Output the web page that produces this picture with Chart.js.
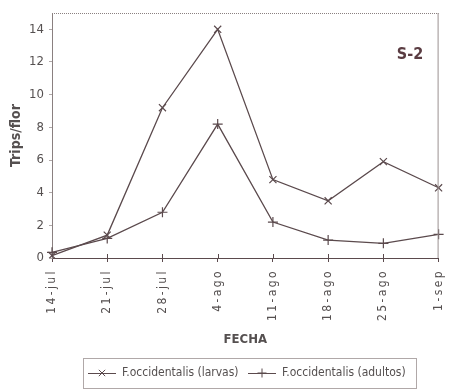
<!DOCTYPE html>
<html>
<head>
<meta charset="utf-8">
<script src="https://cdn.jsdelivr.net/npm/chart.js@4/dist/chart.umd.min.js"></script>
<style>
html,body{margin:0;padding:0;background:#fff;}
#wrap{width:460px;height:390px;}
</style>
</head>
<body>
<div id="wrap"><canvas id="c" width="460" height="390"></canvas></div>
<script>
const categories = ['14-jul','21-jul','28-jul','4-ago','11-ago','18-ago','25-ago','1-sep'];
const larvas = [0.15, 1.4, 9.2, 14.0, 4.8, 3.5, 5.9, 4.3];
const adultos = [0.35, 1.2, 2.8, 8.2, 2.2, 1.1, 0.9, 1.45];
const seriesNames = ['F.occidentalis (larvas)', 'F.occidentalis (adultos)'];
const yTicks = [0, 2, 4, 6, 8, 10, 12, 14];
const panelLabel = 'S-2';
const xTitle = 'FECHA';
const yTitle = 'Trips/flor';

const FONT = "'Liberation Sans Narrow', 'Arial Narrow', 'DejaVu Sans Condensed', sans-serif";
const LINE = '#5b4a4d';
const TEXT = '#555050';

const extras = {
  id: 'extras',
  afterDatasetsDraw(chart) {
    chart.ctx.letterSpacing = '2.4px';
  },
  afterDraw(chart) {
    const ctx = chart.ctx;
    ctx.letterSpacing = '0px';
    ctx.save();
    const a = chart.chartArea;
    // panel label
    ctx.font = "bold 16px " + FONT;
    ctx.fillStyle = '#5a3c42';
    ctx.textAlign = 'center';
    ctx.textBaseline = 'middle';
    ctx.fillText(panelLabel, 410, 55);
    // x title
    ctx.font = "bold 13px " + FONT;
    ctx.fillStyle = TEXT;
    ctx.fillText(xTitle, (a.left + a.right) / 2, 340);
    // top/right border dotted
    ctx.strokeStyle = '#8a8080';
    ctx.lineWidth = 1;
    ctx.setLineDash([1, 1]);
    ctx.beginPath();
    ctx.moveTo(a.left, a.top + 0.5);
    ctx.lineTo(a.right, a.top + 0.5);
    ctx.stroke();
    ctx.setLineDash([]);
    ctx.strokeStyle = '#9a9090';
    ctx.beginPath();
    ctx.moveTo(a.right - 0.5, a.top);
    ctx.lineTo(a.right - 0.5, a.bottom);
    ctx.stroke();
    // x tick marks above axis
    const xs = chart.scales.x;
    ctx.strokeStyle = LINE;
    ctx.beginPath();
    for (let i = 1; i < categories.length - 1; i++) {
      const px = Math.round(xs.getPixelForValue(i)) + 0.5;
      ctx.moveTo(px, a.bottom - 4);
      ctx.lineTo(px, a.bottom);
    }
    ctx.stroke();
    // legend box
    const lx = 83, ly = 358, lw = 333, lh = 30;
    ctx.strokeStyle = '#b0a8a8';
    ctx.strokeRect(lx + 0.5, ly + 0.5, lw, lh);
    ctx.font = "12px " + FONT;
    ctx.fillStyle = TEXT;
    ctx.textAlign = 'left';
    ctx.textBaseline = 'middle';
    const cy = ly + 15;
    const items = [{x: 88, style: 'crossRot'}, {x: 248, style: 'cross'}];
    items.forEach((it, k) => {
      ctx.strokeStyle = LINE;
      ctx.lineWidth = 1;
      ctx.beginPath();
      ctx.moveTo(it.x, cy + 0.5);
      ctx.lineTo(it.x + 28, cy + 0.5);
      ctx.stroke();
      Chart.helpers.drawPoint(ctx, {pointStyle: it.style, radius: 4.5, borderWidth: 1}, it.x + 14, cy);
      ctx.fillText(seriesNames[k], it.x + 34, cy);
    });
    ctx.restore();
  }
};

new Chart(document.getElementById('c'), {
  type: 'line',
  data: {
    labels: categories,
    datasets: [
      {label: seriesNames[0], data: larvas, borderColor: LINE, backgroundColor: LINE, borderWidth: 1.3,
       pointStyle: 'crossRot', pointRadius: 5, pointBorderWidth: 1.2, pointBorderColor: LINE, tension: 0},
      {label: seriesNames[1], data: adultos, borderColor: LINE, backgroundColor: LINE, borderWidth: 1.3,
       pointStyle: 'cross', pointRadius: 5, pointBorderWidth: 1.2, pointBorderColor: LINE, tension: 0}
    ]
  },
  options: {
    responsive: false,
    animation: false,
    layout: {padding: {top: 13, right: 12, left: 0, bottom: 0}},
    plugins: {legend: {display: false}, tooltip: {enabled: false}},
    scales: {
      x: {
        offset: false,
        border: {color: LINE, width: 1},
        grid: {display: true, drawOnChartArea: false, drawTicks: true, tickLength: 4, color: LINE},
        ticks: {
          z: 1,
          color: TEXT, font: {family: FONT, size: 12}, minRotation: 90, maxRotation: 90, padding: 7,
          autoSkip: false
        },
        afterFit(s) { s.height = 132; }
      },
      y: {
        min: 0, max: 15,
        border: {color: '#8a8080', width: 1},
        grid: {display: true, drawOnChartArea: false, tickLength: 3, color: '#b0a8a8'},
        afterBuildTicks(s) { s.ticks = yTicks.map(v => ({value: v})); },
        ticks: {color: TEXT, font: {family: FONT, size: 13}, padding: 5},
        title: {display: true, text: yTitle, color: TEXT, font: {family: FONT, size: 14, weight: 'bold'}, padding: {top: 8, bottom: 0}},
        afterFit(s) { s.width = 52; }
      }
    }
  },
  plugins: [extras]
});
</script>
</body>
</html>
